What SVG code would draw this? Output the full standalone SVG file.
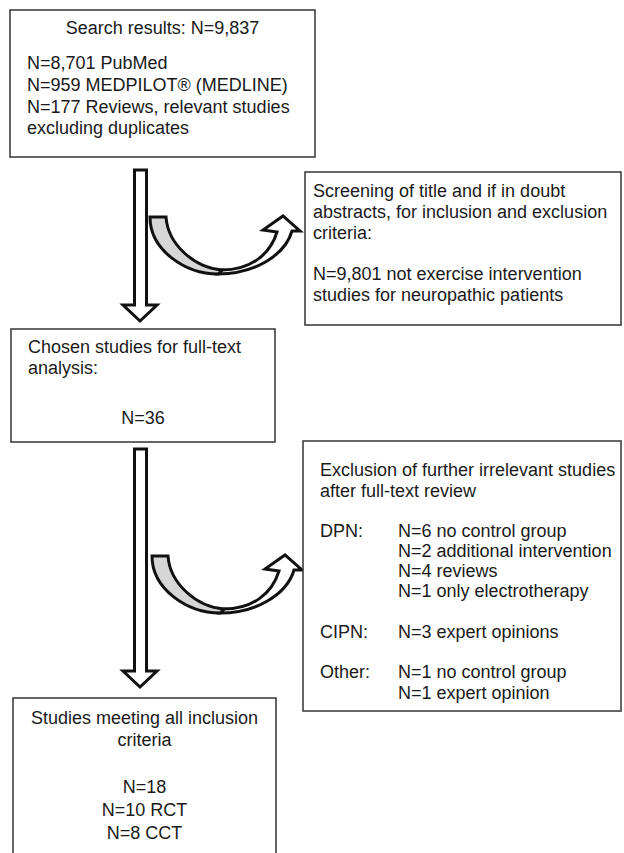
<svg xmlns="http://www.w3.org/2000/svg" width="624" height="853" viewBox="0 0 624 853">
<style>
.box{fill:#fff;stroke:#333;stroke-width:1.5}
.t{font-family:"Liberation Sans",Arial,sans-serif;font-size:18px;fill:#1a1a1a}
.c{text-anchor:middle}
.arr{fill:#fff;stroke:#111;stroke-width:3;stroke-linejoin:miter}
.back{fill:#d6d6d6;stroke:#111;stroke-width:3;stroke-linejoin:miter}
</style>
<rect width="624" height="853" fill="#fff"/>
<g id="connectors">
  <path class="arr" d="M134.5,170 L146.5,170 L146.5,305 L157,305 L140,321 L123,305 L134.5,305 Z"/>
  <g id="curve1">
    <path class="arr" d="M218,274 C255,274 285,255 292,231 L300,231 L283,216 L263,230 L277,232 C270,255 250,270 222,270 Z"/>
    <path class="back" d="M150,217 L166,217 C168,245 195,268 222,270 L218,274 C185,274 150,250 150,217 Z"/>
  </g>
  <path class="arr" d="M134.5,449 L146.5,449 L146.5,671 L157,671 L140,687 L123,671 L134.5,671 Z"/>
  <g id="curve2" transform="translate(2,339)">
    <path class="arr" d="M218,274 C255,274 285,255 292,231 L300,231 L283,216 L263,230 L277,232 C270,255 250,270 222,270 Z"/>
    <path class="back" d="M150,217 L166,217 C168,245 195,268 222,270 L218,274 C185,274 150,250 150,217 Z"/>
  </g>
</g>
<g id="search">
  <rect class="box" x="10" y="10" width="305" height="147"/>
  <text class="t c" x="162.5" y="34">Search results: N=9,837</text>
  <text class="t" x="27" y="69">N=8,701 PubMed</text>
  <text class="t" x="27" y="91">N=959 MEDPILOT® (MEDLINE)</text>
  <text class="t" x="27" y="113">N=177 Reviews, relevant studies</text>
  <text class="t" x="27" y="134">excluding duplicates</text>
</g>
<g id="screening">
  <rect class="box" x="305" y="172" width="316" height="153"/>
  <text class="t" x="313" y="197">Screening of title and if in doubt</text>
  <text class="t" x="313" y="218">abstracts, for inclusion and exclusion</text>
  <text class="t" x="313" y="239">criteria:</text>
  <text class="t" x="313" y="280">N=9,801 not exercise intervention</text>
  <text class="t" x="313" y="301">studies for neuropathic patients</text>
</g>
<g id="chosen">
  <rect class="box" x="11" y="329" width="264" height="113"/>
  <text class="t" x="28" y="353">Chosen studies for full-text</text>
  <text class="t" x="28" y="374">analysis:</text>
  <text class="t c" x="143" y="424">N=36</text>
</g>
<g id="exclusion">
  <rect class="box" x="303" y="441" width="318" height="270"/>
  <text class="t" x="320" y="476">Exclusion of further irrelevant studies</text>
  <text class="t" x="320" y="497">after full-text review</text>
  <text class="t" x="320" y="537">DPN:</text>
  <text class="t" x="398" y="537">N=6 no control group</text>
  <text class="t" x="398" y="557">N=2 additional intervention</text>
  <text class="t" x="398" y="577">N=4 reviews</text>
  <text class="t" x="398" y="597">N=1 only electrotherapy</text>
  <text class="t" x="320" y="638">CIPN:</text>
  <text class="t" x="398" y="638">N=3 expert opinions</text>
  <text class="t" x="320" y="678">Other:</text>
  <text class="t" x="398" y="678">N=1 no control group</text>
  <text class="t" x="398" y="699">N=1 expert opinion</text>
</g>
<g id="included">
  <rect class="box" x="13" y="698" width="263" height="170"/>
  <text class="t c" x="144.5" y="724">Studies meeting all inclusion</text>
  <text class="t c" x="144.5" y="746">criteria</text>
  <text class="t c" x="144.5" y="793">N=18</text>
  <text class="t c" x="144.5" y="816">N=10 RCT</text>
  <text class="t c" x="144.5" y="839">N=8 CCT</text>
</g>
</svg>
